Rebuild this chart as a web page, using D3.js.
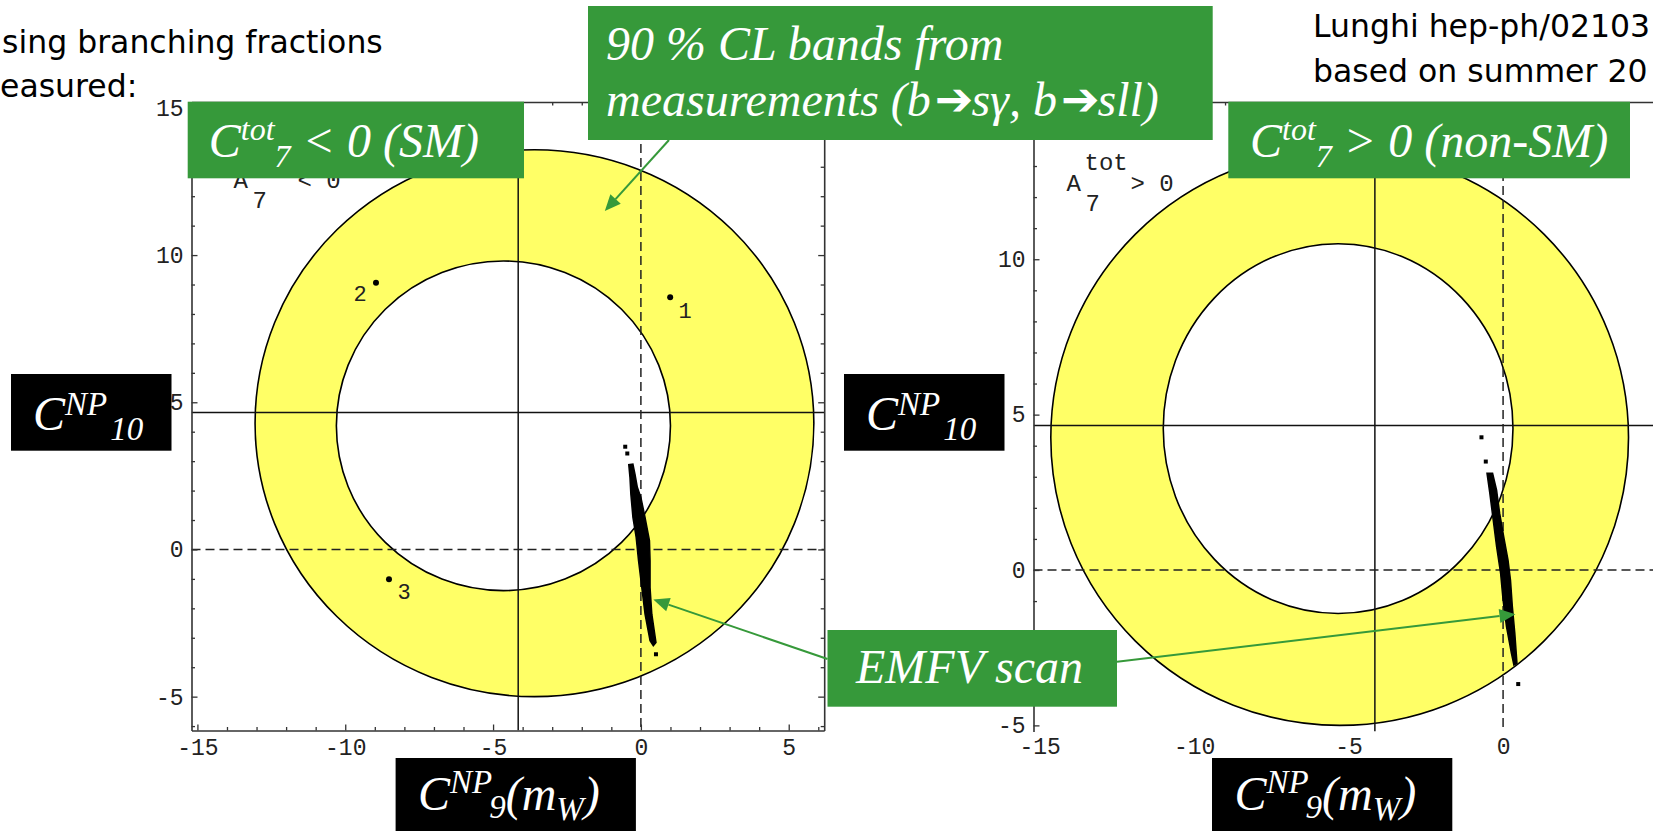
<!DOCTYPE html>
<html>
<head>
<meta charset="utf-8">
<script src="https://cdn.jsdelivr.net/npm/d3@7"></script>
<style>
  body { margin: 0; background: #fff; overflow: hidden; }
  svg { display: block; }
</style>
</head>
<body>
<svg id="chart" width="1653" height="831"></svg>
<script>
// ---------------- data ----------------
// Major tick values on the frames (minor ticks every unit come from scale.ticks)
const xMajorTicks = [-15, -10, -5, 0, 5];
const yMajorTicks = [-5, 0, 5, 10, 15];
// Tick labels printed on each panel
const smXLabels = [-15, -10, -5, 0, 5];
const smYLabels = [-5, 0, 5, 10, 15];
const nonSmXLabels = [-15, -10, -5, 0];
const nonSmYLabels = [-5, 0, 5, 10];

// Standard-model point: C9^NP = -C9^SM, C10^NP = -C10^SM (solid axis lines)
const smPoint = [-4.15, 4.65];

// 90% CL band contours, [centre C9, centre C10, half-width in C9, half-height in C10]
const smOuterContour = [-3.6, 4.29, 9.45, 9.29];
const smInnerContour = [-4.65, 4.2, 5.65, 5.6];
const nonSmOuterContour = [-5.29, 4.26, 9.35, 9.26];
const nonSmInnerContour = [-5.34, 4.55, 5.66, 5.95];

// Benchmark models in the C7 < 0 panel: [C9, C10, label]
const benchmarkPoints = [[0.99, 8.57, "1"], [-8.96, 9.06, "2"], [-8.52, -1.01, "3"]];

// Outline of the EMFV scan region (C9, C10), C7 < 0 panel
const smScanOutline = [
  [-0.41, 2.88], [-0.37, 2.45], [-0.34, 1.88], [-0.27, 1.09], [-0.16, 0.41],
  [-0.08, -0.38], [0.03, -1.29], [0.14, -2.2], [0.31, -3.1], [0.42, -3.27],
  [0.51, -3.16], [0.37, -2.2], [0.31, -1.29], [0.31, -0.38], [0.29, 0.3],
  [0.14, 1.09], [0.0, 1.77], [-0.12, 2.11], [-0.2, 2.56], [-0.27, 2.9]
];
const smScanStray = [[-0.53, 3.49], [-0.46, 3.26], [0.51, -3.56]];

// Outline of the EMFV scan region, C7 > 0 panel
const nonSmScanOutline = [
  [-0.52, 3.11], [-0.43, 2.47], [-0.32, 1.61], [-0.21, 0.75], [-0.08, -0.11],
  [0.0, -0.97], [0.11, -1.82], [0.27, -2.68], [0.35, -3.06],
  [0.45, -3.0], [0.38, -2.04], [0.3, -1.18], [0.24, -0.32], [0.16, 0.32],
  [0.02, 1.07], [-0.11, 1.82], [-0.21, 2.57], [-0.34, 3.11]
];
const nonSmScanStray = [[-0.7, 4.27], [-0.56, 3.49], [0.49, -3.67]];

// ---------------- styles ----------------
const YELLOW = "#ffff66";
const GREEN = "#36993a";
const FRAME = "#333";
const MONO = "Liberation Mono, DejaVu Sans Mono, monospace";
const SERIF = "Liberation Serif, DejaVu Serif, serif";
const SANS = "DejaVu Sans, Verdana, sans-serif";

const svg = d3.select("#chart");
const defs = svg.append("defs");

function styleAxis(g, labels) {
  g.selectAll(".domain").attr("stroke", FRAME).attr("stroke-width", 1.6);
  g.selectAll(".tick line").attr("stroke", FRAME).attr("stroke-width", 1.3);
  g.selectAll(".tick text")
    .attr("font-family", MONO).attr("font-size", 23).attr("fill", "#222");
  if (!labels) g.selectAll(".tick text").remove();
}

function drawPanel(p) {
  const x = d3.scaleLinear().domain(p.xDomain).range([p.left, p.right]);
  const y = d3.scaleLinear().domain(p.yDomain).range([p.bottom, p.top]);
  const g = svg.append("g");

  defs.append("clipPath").attr("id", "clip-" + p.id).append("rect")
    .attr("x", p.left).attr("y", p.top)
    .attr("width", p.right - p.left).attr("height", p.bottom - p.top);
  const plot = g.append("g").attr("clip-path", `url(#clip-${p.id})`);

  // CL band: yellow annulus between outer and inner contour
  const ellipse = (c, fill) => plot.append("ellipse")
    .attr("cx", x(c[0])).attr("cy", y(c[1]))
    .attr("rx", x(c[0] + c[2]) - x(c[0]))
    .attr("ry", y(c[1]) - y(c[1] + c[3]))
    .attr("fill", fill).attr("stroke", "#000").attr("stroke-width", 1.6);
  ellipse(p.outer, YELLOW);
  ellipse(p.inner, "#fff");

  // SM axes (solid) and zero lines (dashed)
  plot.append("line").attr("x1", x(smPoint[0])).attr("x2", x(smPoint[0]))
    .attr("y1", p.top).attr("y2", p.bottom).attr("stroke", "#111").attr("stroke-width", 1.5);
  plot.append("line").attr("x1", p.left).attr("x2", p.right)
    .attr("y1", y(smPoint[1])).attr("y2", y(smPoint[1])).attr("stroke", "#111").attr("stroke-width", 1.5);
  plot.append("line").attr("x1", x(0)).attr("x2", x(0))
    .attr("y1", p.top).attr("y2", p.bottom)
    .attr("stroke", "#222").attr("stroke-width", 1.5).attr("stroke-dasharray", "9,5");
  plot.append("line").attr("x1", p.left).attr("x2", p.right)
    .attr("y1", y(0)).attr("y2", y(0))
    .attr("stroke", "#222").attr("stroke-width", 1.5).attr("stroke-dasharray", "9,5");

  // EMFV scan
  const line = d3.line().x(d => x(d[0])).y(d => y(d[1])).curve(d3.curveLinearClosed);
  plot.append("path").attr("d", line(p.scan))
    .attr("fill", "#000").attr("stroke", "#000").attr("stroke-width", 1.5);
  plot.selectAll("rect.stray").data(p.stray).join("rect").attr("class", "stray")
    .attr("x", d => x(d[0]) - 2).attr("y", d => y(d[1]) - 2)
    .attr("width", 4).attr("height", 4).attr("fill", "#000");

  // Frame axes: major + minor ticks pointing inward
  const minorX = x.ticks(20).filter(v => !xMajorTicks.includes(v));
  const minorY = y.ticks(20).filter(v => !yMajorTicks.includes(v));
  const fmtX = d => p.xLabels.includes(d) ? String(d) : "";
  const fmtY = d => p.yLabels.includes(d) ? String(d) : "";

  if (p.bottomFrame) {
    const gb = g.append("g").attr("transform", `translate(0,${p.bottom})`)
      .call(d3.axisBottom(x).tickValues(xMajorTicks).tickSizeInner(-6).tickSizeOuter(0).tickPadding(8).tickFormat(fmtX));
    styleAxis(gb, true);
    const gbm = g.append("g").attr("transform", `translate(0,${p.bottom})`)
      .call(d3.axisBottom(x).tickValues(minorX).tickSize(-3.5).tickFormat(""));
    styleAxis(gbm, false); gbm.select(".domain").remove();
  } else {
    const gb = g.append("g").attr("transform", `translate(0,${p.bottom})`)
      .call(d3.axisBottom(x).tickValues(p.xLabels).tickSize(0).tickPadding(6).tickFormat(fmtX));
    styleAxis(gb, true); gb.select(".domain").remove();
  }
  const gt = g.append("g").attr("transform", `translate(0,${p.top})`)
    .call(d3.axisTop(x).tickValues(xMajorTicks).tickSizeInner(-6).tickSizeOuter(0));
  styleAxis(gt, false);
  const gtm = g.append("g").attr("transform", `translate(0,${p.top})`)
    .call(d3.axisTop(x).tickValues(minorX).tickSize(-3.5).tickFormat(""));
  styleAxis(gtm, false); gtm.select(".domain").remove();

  const gl = g.append("g").attr("transform", `translate(${p.left},0)`)
    .call(d3.axisLeft(y).tickValues(yMajorTicks).tickSizeInner(-6).tickSizeOuter(0).tickPadding(8).tickFormat(fmtY));
  styleAxis(gl, true);
  gl.selectAll(".tick text").filter(function () { return this.textContent === ""; }).remove();
  const glm = g.append("g").attr("transform", `translate(${p.left},0)`)
    .call(d3.axisLeft(y).tickValues(minorY).tickSize(-3.5).tickFormat(""));
  styleAxis(glm, false); glm.select(".domain").remove();

  if (p.rightFrame) {
    const gr = g.append("g").attr("transform", `translate(${p.right},0)`)
      .call(d3.axisRight(y).tickValues(yMajorTicks).tickSizeInner(-6).tickSizeOuter(0));
    styleAxis(gr, false);
    const grm = g.append("g").attr("transform", `translate(${p.right},0)`)
      .call(d3.axisRight(y).tickValues(minorY).tickSize(-3.5).tickFormat(""));
    styleAxis(grm, false); grm.select(".domain").remove();
  }

  // A7^tot sign label in Mathematica style
  const ax = x(p.signLabelAt[0]), ay = y(p.signLabelAt[1]);
  const lab = g.append("g").attr("font-family", MONO).attr("font-size", 24).attr("fill", "#222");
  lab.append("text").attr("x", ax).attr("y", ay).text("A");
  if (p.showTot) lab.append("text").attr("x", ax + 18).attr("y", ay - 21).text("tot");
  lab.append("text").attr("x", ax + 19).attr("y", ay + 20).text("7");
  lab.append("text").attr("x", ax + 64).attr("y", ay).text(p.signText);

  return { x, y, g };
}

// ---- C7 < 0 (SM sign) panel ----
const left = drawPanel({
  id: "sm", left: 191.5, right: 824.2, top: 102, bottom: 730.5,
  xDomain: [-15.2, 6.2], yDomain: [-6.15, 15.2],
  xLabels: smXLabels, yLabels: smYLabels,
  outer: smOuterContour, inner: smInnerContour,
  scan: smScanOutline, stray: smScanStray,
  bottomFrame: true, rightFrame: true,
  signLabelAt: [-13.78, 12.29], signText: "< 0", showTot: false
});

// benchmark points 1, 2, 3
const bp = left.g.append("g");
bp.selectAll("circle").data(benchmarkPoints).join("circle")
  .attr("cx", d => left.x(d[0])).attr("cy", d => left.y(d[1])).attr("r", 3).attr("fill", "#000");
const labelOffset = { "1": [15, 15], "2": [-16, 13], "3": [15, 14] };
bp.selectAll("text").data(benchmarkPoints).join("text")
  .attr("x", d => left.x(d[0]) + labelOffset[d[2]][0])
  .attr("y", d => left.y(d[1]) + labelOffset[d[2]][1])
  .attr("text-anchor", "middle").attr("dominant-baseline", "central")
  .attr("font-family", MONO).attr("font-size", 22).attr("fill", "#222")
  .text(d => d[2]);

// ---- C7 > 0 (non-SM sign) panel ----
const right = drawPanel({
  id: "nonsm", left: 1033.5, right: 1673, top: 102, bottom: 731.6,
  xDomain: [-15.2, 5.5], yDomain: [-5.2, 15.06],
  xLabels: nonSmXLabels, yLabels: nonSmYLabels,
  outer: nonSmOuterContour, inner: nonSmInnerContour,
  scan: nonSmScanOutline, stray: nonSmScanStray,
  bottomFrame: false, rightFrame: false,
  signLabelAt: [-14.13, 12.18], signText: "> 0", showTot: true
});

// ---------------- annotations ----------------
const ann = svg.append("g");

function richText(parent, x, y, parts, fill, family, style) {
  const t = parent.append("text").attr("x", x).attr("y", y)
    .attr("font-family", family).attr("font-style", style || "italic")
    .attr("fill", fill).style("white-space", "pre");
  let cur = 0;
  parts.forEach(p => {
    const s = p.shift || 0;
    const ts = t.append("tspan").attr("font-size", p.size)
      .attr("dy", s - cur).attr("dx", p.dx || 0).text(p.t);
    if (p.family) ts.attr("font-family", p.family);
    if (p.style) ts.attr("font-style", p.style);
    cur = s;
  });
  return t;
}

function arrow(parent, x1, y1, x2, y2) {
  const ang = Math.atan2(y2 - y1, x2 - x1), L = 16, Wd = 7;
  const bx = x2 - L * Math.cos(ang), by = y2 - L * Math.sin(ang);
  parent.append("line").attr("x1", x1).attr("y1", y1).attr("x2", bx).attr("y2", by)
    .attr("stroke", GREEN).attr("stroke-width", 2);
  parent.append("path")
    .attr("d", `M${x2},${y2}L${bx - Wd * Math.sin(ang)},${by + Wd * Math.cos(ang)}L${bx + Wd * Math.sin(ang)},${by - Wd * Math.cos(ang)}Z`)
    .attr("fill", GREEN);
}

// arrows to the CL band and the scan regions
arrow(ann, 669, 140, left.x(-1.22), left.y(11.5));
arrow(ann, 827.5, 659, left.x(0.42), left.y(-1.7));
arrow(ann, 1117, 661.7, right.x(0.4), right.y(-1.42));

// green boxes
ann.append("rect").attr("x", 187.7).attr("y", 101.7).attr("width", 336.3).attr("height", 76.6).attr("fill", GREEN);
richText(ann, 208.8, 156.7, [
  { t: "C", size: 48 }, { t: "tot", size: 32, shift: -17 }, { t: "7", size: 32, shift: 10 },
  { t: " < 0 (SM)", size: 48 }
], "#fff", SERIF);

ann.append("rect").attr("x", 1228.3).attr("y", 101.7).attr("width", 401.7).attr("height", 76.6).attr("fill", GREEN);
richText(ann, 1250, 156.7, [
  { t: "C", size: 48 }, { t: "tot", size: 32, shift: -17 }, { t: "7", size: 32, shift: 10 },
  { t: " > 0 (non-SM)", size: 48 }
], "#fff", SERIF);

ann.append("rect").attr("x", 588).attr("y", 6).attr("width", 624.7).attr("height", 134).attr("fill", GREEN);
richText(ann, 606, 60, [{ t: "90 % CL bands from", size: 48 }], "#fff", SERIF);
const ARROW_GLYPH = { family: SANS, style: "normal", size: 46, shift: -1, dx: 4 };
richText(ann, 606, 116, [
  { t: "measurements (b", size: 48 },
  Object.assign({ t: "\u2794" }, ARROW_GLYPH),
  { t: "s\u03b3, b", size: 48, dx: -2 },
  Object.assign({ t: "\u2794" }, ARROW_GLYPH),
  { t: "sll)", size: 48, dx: -2 }
], "#fff", SERIF);

ann.append("rect").attr("x", 827.5).attr("y", 630).attr("width", 289.5).attr("height", 76.7).attr("fill", GREEN);
richText(ann, 856, 683, [{ t: "EMFV scan", size: 48 }], "#fff", SERIF);

// black axis-title boxes
function c10Box(bx) {
  ann.append("rect").attr("x", bx).attr("y", 374).attr("width", 160.5).attr("height", 76.7).attr("fill", "#000");
  richText(ann, bx + 22, 430, [
    { t: "C", size: 48 }, { t: "NP", size: 33, shift: -15 }, { t: "10", size: 33, shift: 10, dx: 3 }
  ], "#fff", SERIF);
}
c10Box(11);
c10Box(844);

function c9Box(bx) {
  ann.append("rect").attr("x", bx).attr("y", 758).attr("width", 240.3).attr("height", 73).attr("fill", "#000");
  richText(ann, bx + 22.4, 810, [
    { t: "C", size: 48 }, { t: "NP", size: 33, shift: -16.6 }, { t: "9", size: 33, shift: 8, dx: -3 },
    { t: "(m", size: 48, shift: 0 }, { t: "W", size: 33, shift: 10 }, { t: ")", size: 48, shift: 0 }
  ], "#fff", SERIF);
}
c9Box(395.6);
c9Box(1212);

// slide text
const slide = svg.append("g").attr("font-family", SANS).attr("font-size", 31.5).attr("fill", "#000");
slide.append("text").attr("x", 2).attr("y", 53).text("sing branching fractions");
slide.append("text").attr("x", 0).attr("y", 96.7).text("easured:");
slide.append("text").attr("x", 1313).attr("y", 36.7).text("Lunghi hep-ph/02103");
slide.append("text").attr("x", 1313).attr("y", 81.7).text("based on summer 20");
</script>
</body>
</html>
